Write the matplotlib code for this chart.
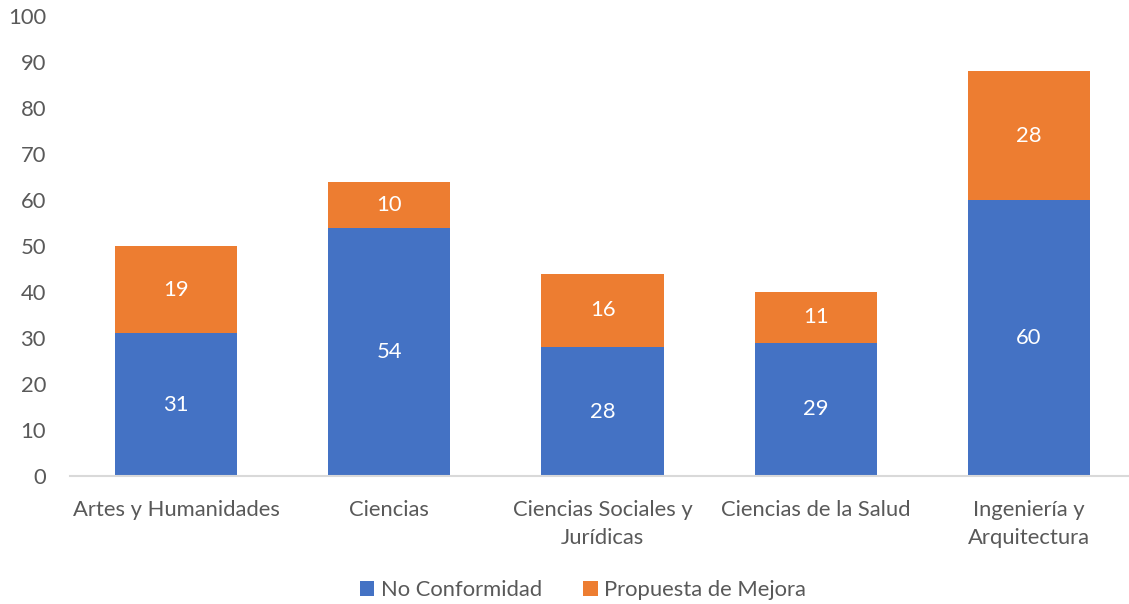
import matplotlib
matplotlib.use('Agg')
import matplotlib.pyplot as plt
import numpy as np

# data
categories = ['Artes y Humanidades', 'Ciencias', 'Ciencias Sociales y\nJurídicas',
              'Ciencias de la Salud', 'Ingeniería y\nArquitectura']
no_conformidad = [31, 54, 28, 29, 60]
propuesta_mejora = [19, 10, 16, 11, 28]
y_ticks = [0, 10, 20, 30, 40, 50, 60, 70, 80, 90, 100]

plt.rcParams['font.family'] = ['Lato', 'DejaVu Sans']
text_gray = '#595959'
blue = '#4472C4'
orange = '#ED7D31'
fs = 15.8

fig = plt.figure(figsize=(11.29, 6.04), dpi=100)
ax = fig.add_axes([69.5 / 1129, 1 - 476 / 604, 1066 / 1129, 460 / 604])

x = np.arange(len(categories))
w = 0.573
b1 = ax.bar(x, no_conformidad, w, color=blue, label='No Conformidad')
b2 = ax.bar(x, propuesta_mejora, w, bottom=no_conformidad, color=orange, label='Propuesta de Mejora')

# value labels inside the segments
for i in range(len(categories)):
    ax.text(x[i], no_conformidad[i] / 2, str(no_conformidad[i]), ha='center', va='center',
            color='white', fontsize=fs)
    ax.text(x[i], no_conformidad[i] + propuesta_mejora[i] / 2, str(propuesta_mejora[i]),
            ha='center', va='center', color='white', fontsize=fs)

ax.set_xlim(-0.5, len(categories) - 0.5)
ax.set_ylim(0, 100)
ax.set_yticks(y_ticks)
ax.set_xticks(x)
ax.set_xticklabels(categories, linespacing=1.5)
ax.tick_params(axis='y', length=0, pad=17, labelsize=fs, labelcolor=text_gray)
ax.tick_params(axis='x', length=0, pad=17, labelsize=fs, labelcolor=text_gray)

for s in ['top', 'right', 'left']:
    ax.spines[s].set_visible(False)
ax.spines['bottom'].set_color('#D9D9D9')
ax.spines['bottom'].set_linewidth(1.5)

fig.legend(handles=[b1, b2], loc='center', bbox_to_anchor=(583 / 1129, 1 - 590 / 604),
           ncol=2, frameon=False, fontsize=fs, labelcolor=text_gray,
           handlelength=0.65, handleheight=0.65, handletextpad=0.3, columnspacing=1.9)

plt.savefig('out.png', dpi=100)
